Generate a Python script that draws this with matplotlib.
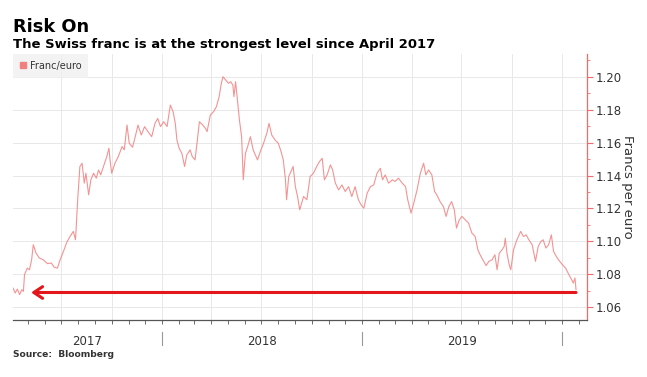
import matplotlib
matplotlib.use("Agg")
import matplotlib.pyplot as plt
import matplotlib.dates as mdates
import matplotlib.transforms as mtransforms
from matplotlib.lines import Line2D
from matplotlib.ticker import MultipleLocator, FormatStrFormatter
import pandas as pd

# EUR/CHF (roughly weekly)
dates = [
    "2017-04-04", "2017-04-08", "2017-04-12", "2017-04-16", "2017-04-20", "2017-04-23",
    "2017-04-25", "2017-04-30", "2017-05-04", "2017-05-08", "2017-05-11", "2017-05-16",
    "2017-05-22", "2017-05-29", "2017-06-06", "2017-06-13", "2017-06-18", "2017-06-24",
    "2017-06-29", "2017-07-05", "2017-07-11", "2017-07-17", "2017-07-23", "2017-07-27",
    "2017-07-31", "2017-08-04", "2017-08-08", "2017-08-12", "2017-08-15", "2017-08-20",
    "2017-08-24", "2017-08-29", "2017-09-03", "2017-09-07", "2017-09-11", "2017-09-16",
    "2017-09-22", "2017-09-26", "2017-09-28", "2017-10-01", "2017-10-07", "2017-10-13",
    "2017-10-20", "2017-10-24", "2017-10-29", "2017-11-02", "2017-11-08", "2017-11-13",
    "2017-11-18", "2017-11-24", "2017-11-30", "2017-12-06", "2017-12-13", "2017-12-19",
    "2017-12-24", "2017-12-29", "2018-01-04", "2018-01-10", "2018-01-16", "2018-01-21",
    "2018-01-25", "2018-01-28", "2018-02-01", "2018-02-06", "2018-02-11", "2018-02-15",
    "2018-02-21", "2018-02-25", "2018-03-02", "2018-03-07", "2018-03-10", "2018-03-16",
    "2018-03-21", "2018-03-24", "2018-03-30", "2018-04-05", "2018-04-10", "2018-04-15",
    "2018-04-19", "2018-04-22", "2018-04-27", "2018-05-02", "2018-05-06", "2018-05-10",
    "2018-05-12", "2018-05-15", "2018-05-19", "2018-05-22", "2018-05-26", "2018-05-29",
    "2018-06-02", "2018-06-06", "2018-06-11", "2018-06-16", "2018-06-20", "2018-06-24",
    "2018-06-29", "2018-07-05", "2018-07-11", "2018-07-15", "2018-07-20", "2018-07-26",
    "2018-08-01", "2018-08-06", "2018-08-10", "2018-08-14", "2018-08-16", "2018-08-20",
    "2018-08-28", "2018-09-01", "2018-09-05", "2018-09-09", "2018-09-16", "2018-09-22",
    "2018-09-28", "2018-10-04", "2018-10-10", "2018-10-15", "2018-10-20", "2018-10-24",
    "2018-10-29", "2018-11-04", "2018-11-08", "2018-11-13", "2018-11-19", "2018-11-25",
    "2018-12-01", "2018-12-07", "2018-12-13", "2018-12-19", "2018-12-25", "2018-12-30",
    "2019-01-04", "2019-01-10", "2019-01-16", "2019-01-22", "2019-01-28", "2019-02-03",
    "2019-02-07", "2019-02-12", "2019-02-18", "2019-02-25", "2019-03-02", "2019-03-08",
    "2019-03-15", "2019-03-21", "2019-03-25", "2019-03-31", "2019-04-05", "2019-04-11",
    "2019-04-17", "2019-04-23", "2019-04-27", "2019-05-02", "2019-05-08", "2019-05-13",
    "2019-05-17", "2019-05-23", "2019-05-29", "2019-06-03", "2019-06-08", "2019-06-13",
    "2019-06-18", "2019-06-22", "2019-06-27", "2019-07-02", "2019-07-08", "2019-07-14",
    "2019-07-20", "2019-07-26", "2019-07-31", "2019-08-04", "2019-08-09", "2019-08-15",
    "2019-08-20", "2019-08-26", "2019-08-31", "2019-09-04", "2019-09-08", "2019-09-13",
    "2019-09-17", "2019-09-19", "2019-09-22", "2019-09-26", "2019-09-29", "2019-10-04",
    "2019-10-09", "2019-10-13", "2019-10-17", "2019-10-22", "2019-10-27", "2019-11-01",
    "2019-11-07", "2019-11-13", "2019-11-18", "2019-11-23", "2019-11-27", "2019-12-02",
    "2019-12-07", "2019-12-12", "2019-12-16", "2019-12-21", "2019-12-25", "2020-01-01",
    "2020-01-07", "2020-01-13", "2020-01-18", "2020-01-21", "2020-01-24", "2020-01-26",
]
rates = [
    1.0717, 1.0687, 1.0711, 1.0677, 1.0707, 1.0697,
    1.0798, 1.0838, 1.0828, 1.0889, 1.0980, 1.0929,
    1.0899, 1.0889, 1.0865, 1.0869, 1.0844, 1.0838,
    1.0889, 1.0939, 1.0994, 1.1030, 1.1061, 1.1010,
    1.1253, 1.1455, 1.1475, 1.1354, 1.1414, 1.1283,
    1.1374, 1.1414, 1.1384, 1.1434, 1.1404, 1.1455,
    1.1515, 1.1566, 1.1495, 1.1414, 1.1475, 1.1515,
    1.1576, 1.1556, 1.1707, 1.1596, 1.1572, 1.1636,
    1.1707, 1.1646, 1.1697, 1.1667, 1.1636, 1.1717,
    1.1747, 1.1697, 1.1727, 1.1697, 1.1828, 1.1788,
    1.1717, 1.1616, 1.1566, 1.1535, 1.1455, 1.1525,
    1.1556, 1.1515, 1.1495, 1.1636, 1.1727, 1.1707,
    1.1687, 1.1667, 1.1768, 1.1788, 1.1818, 1.1879,
    1.1960, 1.2000, 1.1980, 1.1960, 1.1970, 1.1949,
    1.1879, 1.1970, 1.1838, 1.1737, 1.1636, 1.1374,
    1.1535, 1.1576, 1.1636, 1.1556, 1.1525, 1.1495,
    1.1545, 1.1596, 1.1657, 1.1717, 1.1646, 1.1616,
    1.1596, 1.1545, 1.1495, 1.1374, 1.1253, 1.1394,
    1.1455, 1.1333, 1.1273, 1.1192, 1.1273, 1.1253,
    1.1394, 1.1414, 1.1455, 1.1485, 1.1505, 1.1374,
    1.1404, 1.1465, 1.1434, 1.1354, 1.1313, 1.1343,
    1.1303, 1.1333, 1.1273, 1.1333, 1.1253, 1.1222,
    1.1202, 1.1293, 1.1333, 1.1343, 1.1414, 1.1444,
    1.1374, 1.1404, 1.1354, 1.1374, 1.1364, 1.1384,
    1.1354, 1.1333, 1.1253, 1.1172, 1.1232, 1.1313,
    1.1414, 1.1475, 1.1404, 1.1434, 1.1404, 1.1303,
    1.1283, 1.1242, 1.1212, 1.1152, 1.1212, 1.1242,
    1.1192, 1.1081, 1.1131, 1.1152, 1.1131, 1.1111,
    1.1051, 1.1030, 1.0949, 1.0919, 1.0889, 1.0853,
    1.0879, 1.0889, 1.0919, 1.0828, 1.0929, 1.0949,
    1.0970, 1.1020, 1.0929, 1.0859, 1.0828, 1.0949,
    1.1000, 1.1030, 1.1061, 1.1030, 1.1040, 1.1010,
    1.0980, 1.0879, 1.0970, 1.1000, 1.1010, 1.0960,
    1.0980, 1.1040, 1.0939, 1.0909, 1.0889, 1.0859,
    1.0838, 1.0798, 1.0768, 1.0747, 1.0778, 1.0707,
]

years = [2017, 2018, 2019]
y_ticks = [1.06, 1.08, 1.10, 1.12, 1.14, 1.16, 1.18, 1.20]

# arrow back to the April 2017 level
arrow_level = 1.069
arrow_start = "2020-01-26"
arrow_end = "2017-05-07"

x_start = pd.Timestamp("2017-04-04")
x_end = pd.Timestamp("2020-02-15")

line_color = "#f28080"
axis_red = "#f26b6b"
grid_color = "#e8e8e8"
text_color = "#333333"

fig = plt.figure(figsize=(6.47, 3.77), dpi=100)
ax = fig.add_axes([13 / 647, 57 / 377, 574 / 647, 266 / 377])

ax.plot(pd.to_datetime(dates), rates, color=line_color, lw=0.8, alpha=0.85)

ax.annotate("", xy=(pd.Timestamp(arrow_end), arrow_level),
            xytext=(pd.Timestamp(arrow_start), arrow_level),
            arrowprops=dict(arrowstyle="->,head_length=0.45,head_width=0.3",
                            color="#e3161b", lw=2.2, shrinkA=0, shrinkB=0,
                            mutation_scale=14))

ax.set_xlim(x_start, x_end)
ax.set_ylim(1.0523, 1.2138)

# y axis on the right, red spine
ax.yaxis.tick_right()
ax.yaxis.set_label_position("right")
ax.set_yticks(y_ticks)
ax.yaxis.set_major_formatter(FormatStrFormatter("%.2f"))
ax.yaxis.set_minor_locator(MultipleLocator(0.01))
ax.tick_params(axis="y", which="major", colors=axis_red, labelcolor=text_color,
               length=4, width=0.8, labelsize=8.5, pad=2)
ax.tick_params(axis="y", which="minor", colors=axis_red, length=2, width=0.6)
ax.set_ylabel("Francs per euro", rotation=270, labelpad=9, fontsize=9.5,
              color=text_color)

# x axis: quarterly grid, monthly ticks, no tick labels
ax.xaxis.set_major_locator(mdates.MonthLocator(bymonth=[1, 4, 7, 10]))
ax.xaxis.set_minor_locator(mdates.MonthLocator())
ax.tick_params(axis="x", which="both", colors="#555555", length=3, width=0.6,
               labelbottom=False)

ax.grid(True, which="major", color=grid_color, lw=0.7)
ax.set_axisbelow(True)

for side in ["top", "left"]:
    ax.spines[side].set_visible(False)
ax.spines["right"].set_color(axis_red)
ax.spines["right"].set_linewidth(0.9)
ax.spines["bottom"].set_color("#555555")
ax.spines["bottom"].set_linewidth(0.9)

# year labels centred in the visible part of each year, separators on Jan 1
trans = mtransforms.blended_transform_factory(ax.transData, ax.transAxes)
for year in years:
    left = max(pd.Timestamp(f"{year}-01-01"), x_start)
    right = pd.Timestamp(f"{year + 1}-01-01")
    mid = left + (right - left) / 2
    ax.text(mid, -0.079, str(year), transform=trans, ha="center", va="center",
            fontsize=8.5, color=text_color)
    ax.plot([right, right], [-0.045, -0.095], transform=trans, color="#999999",
            lw=0.8, clip_on=False)

# legend
handle = Line2D([], [], color=line_color, marker="s", linestyle="none",
                markersize=5)
leg = ax.legend([handle], ["Franc/euro"], loc="upper left",
                bbox_to_anchor=(0, 1), borderaxespad=0.0, fontsize=7,
                frameon=True, fancybox=False, handlelength=0.7,
                handletextpad=0.3, borderpad=0.7, labelcolor=text_color)
leg.get_frame().set_facecolor("#f0f0f0")
leg.get_frame().set_edgecolor("none")

fig.text(13 / 647, 1 - 32 / 377, "Risk On", fontsize=12.8, fontweight="bold",
         color="black")
fig.text(13 / 647, 1 - 48 / 377,
         "The Swiss franc is at the strongest level since April 2017",
         fontsize=9.45, fontweight="bold", color="black")
fig.text(13 / 647, 1 - 357 / 377, "Source:  Bloomberg", fontsize=6.6,
         fontweight="bold", color=text_color)

fig.savefig("out.png", dpi=100)
